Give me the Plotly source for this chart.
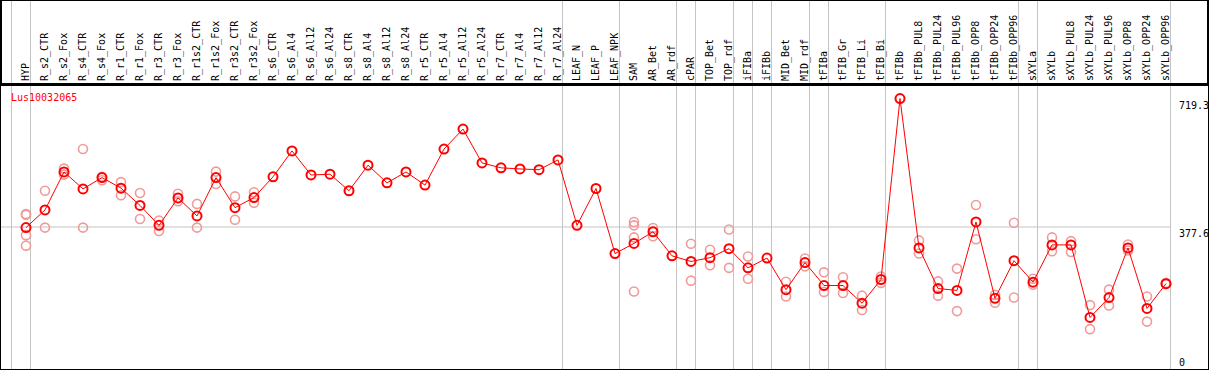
import plotly.graph_objects as go

categories = ["HYP", "R_s2_CTR", "R_s2_Fox", "R_s4_CTR", "R_s4_Fox", "R_r1_CTR", "R_r1_Fox",
              "R_r3_CTR", "R_r3_Fox", "R_r1s2_CTR", "R_r1s2_Fox", "R_r3s2_CTR", "R_r3s2_Fox",
              "R_s6_CTR", "R_s6_Al4", "R_s6_Al12", "R_s6_Al24", "R_s8_CTR", "R_s8_Al4", "R_s8_Al12",
              "R_s8_Al24", "R_r5_CTR", "R_r5_Al4", "R_r5_Al12", "R_r5_Al24", "R_r7_CTR", "R_r7_Al4",
              "R_r7_Al12", "R_r7_Al24", "LEAF_N", "LEAF_P", "LEAF_NPK", "SAM", "AR_Bet", "AR_rdf",
              "cPAR", "TOP_Bet", "TOP_rdf", "iFIBa", "iFIBb", "MID_Bet", "MID_rdf", "tFIBa",
              "tFIB_Gr", "tFIB_Li", "tFIB_Bi", "tFIBb", "tFIBb_PUL8", "tFIBb_PUL24", "tFIBb_PUL96",
              "tFIBb_OPP8", "tFIBb_OPP24", "tFIBb_OPP96", "sXYLa", "sXYLb", "sXYLb_PUL8",
              "sXYLb_PUL24", "sXYLb_PUL96", "sXYLb_OPP8", "sXYLb_OPP24", "sXYLb_OPP96"]

mean_values = [376, 423, 524, 479, 509, 481, 435, 382, 455, 407, 509, 429, 456,
               511, 580, 516, 518, 474, 542, 495, 524, 489, 585, 638, 548, 535, 532, 530, 556,
               382, 480, 307, 334, 365, 301, 286, 296, 320, 269, 295, 211, 283, 222, 222, 175, 238,
               719.3, 322, 214, 209, 391, 188, 288, 231, 330, 330, 137, 190, 322, 161, 227]

replicates = [[412, 410, 356, 328], [474, 376], [533, 517], [585, 376], [511, 502], [497, 462],
              [468, 399], [395, 367], [466, 446], [439, 376], [525, 492], [459, 397], [470, 442],
              [], [], [], [], [], [], [], [], [], [], [], [], [], [], [], [],
              [], [], [], [391, 382, 350, 206], [375, 353], [], [333, 235], [317, 276], [371, 269],
              [299, 240], [], [232, 193], [294, 273], [257, 205], [244, 202], [195, 157], [246, 229],
              [], [342, 307], [233, 195], [267, 154], [436, 345], [197, 176], [389, 190],
              [240, 224], [350, 313], [340, 311], [170, 106], [211, 169], [331, 315], [193, 126],
              [226, 229]]

# indices of categories after which a group separator is drawn (-1 = before first)
separators_after = [-1, 0, 28, 31, 34, 35, 37, 38, 39, 41, 42, 45, 52, 53, 60]

gene_name = "Lus10032065"

idx = list(range(len(categories)))
rep_x, rep_y = [], []
for i, reps in enumerate(replicates):
    for v in reps:
        rep_x.append(i)
        rep_y.append(v)

vmax = max(mean_values)
ytop = vmax * 1.05
ymid = ytop / 2

W, H = 1209, 370
ML, MR, MT, MB = 1, 1, 85, 1
plot_w = W - ML - MR
plot_h = H - MT - MB
px_per_cat = 19.0
x0 = -(26 - ML) / px_per_cat
x1 = x0 + plot_w / px_per_cat
sep_off = 4.5 / px_per_cat
top_paper = (H - MB) / plot_h

fig = go.Figure()

fig.add_trace(go.Scatter(
    x=rep_x, y=rep_y, mode="markers",
    marker=dict(symbol="circle-open", size=9, color="#f09a9a", line=dict(width=1.6, color="#f09a9a")),
    hoverinfo="skip", showlegend=False))

fig.add_trace(go.Scatter(
    x=idx, y=mean_values, mode="lines+markers",
    line=dict(color="#ff0000", width=1),
    marker=dict(symbol="circle-open", size=9, color="#ff0000", line=dict(width=2, color="#ff0000")),
    showlegend=False))

shapes = []
for s in separators_after:
    xs = s + sep_off
    shapes.append(dict(type="line", xref="x", yref="paper", x0=xs, x1=xs, y0=0, y1=top_paper,
                       line=dict(color="#c4c4c4", width=1), layer="below"))
last_sep = separators_after[-1] + sep_off
shapes.append(dict(type="line", xref="x", yref="y", x0=x0, x1=last_sep, y0=ymid, y1=ymid,
                   line=dict(color="#c4c4c4", width=1), layer="below"))
# header frame
shapes.append(dict(type="rect", xref="paper", yref="paper", x0=0, x1=1, y0=1, y1=top_paper,
                   line=dict(color="black", width=2)))

annotations = [
    dict(text=gene_name, xref="paper", yref="paper", x=8 / plot_w, y=1 - 5 / plot_h,
         xanchor="left", yanchor="top", showarrow=False,
         font=dict(family="DejaVu Sans Mono", size=10, color="#ff0000")),
]
label_x = separators_after[-1] + sep_off + 7 / px_per_cat
for val, anchor in [(vmax, "top"), (ymid, "top"), (0, "bottom")]:
    annotations.append(dict(text=f"{val:.1f}" if val else "0", xref="x", yref="y",
                            x=label_x, y=val, xanchor="left", yanchor=anchor, showarrow=False,
                            borderpad=0,
                            font=dict(family="DejaVu Sans Mono", size=10, color="black")))

fig.update_layout(
    width=W, height=H,
    margin=dict(l=ML, r=MR, t=MT, b=MB, pad=0, autoexpand=False),
    plot_bgcolor="white", paper_bgcolor="white",
    shapes=shapes, annotations=annotations,
    xaxis=dict(range=[x0, x1], side="top", tickmode="array", tickvals=idx, ticktext=categories,
               tickangle=-90, ticks="", showgrid=False, zeroline=False, automargin=False,
               showline=True, mirror=True, linecolor="black", linewidth=2,
               tickfont=dict(family="DejaVu Sans Mono", size=10, color="black")),
    yaxis=dict(range=[0, ytop], showticklabels=False, ticks="", showgrid=False, zeroline=False,
               automargin=False,
               showline=True, mirror=True, linecolor="black", linewidth=2),
)

fig.write_html("out.html", config={"displayModeBar": False},
               post_script="document.body.style.margin='0';document.body.style.overflow='hidden';")
